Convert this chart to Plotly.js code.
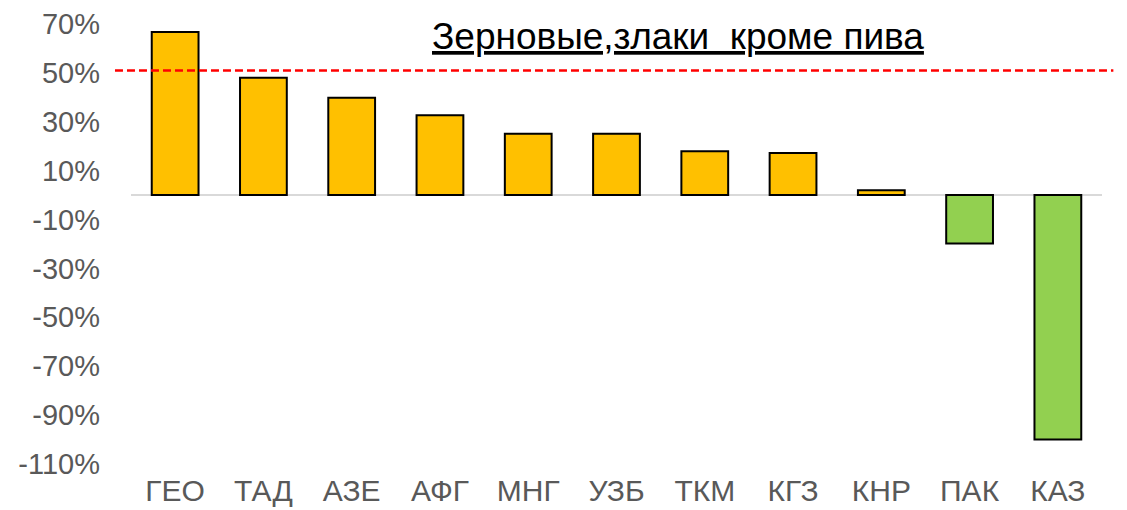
<!DOCTYPE html>
<html>
<head>
<meta charset="utf-8">
<script src="https://cdn.plot.ly/plotly-3.0.1.min.js"></script>
<style>html,body{margin:0;padding:0;background:#fff;}#chart{width:1127px;height:510px;}</style>
</head>
<body>
<div id="chart"></div>
<script>
const categories = ['ГЕО', 'ТАД', 'АЗЕ', 'АФГ', 'МНГ', 'УЗБ', 'ТКМ', 'КГЗ', 'КНР', 'ПАК', 'КАЗ'];
const values = [0.667, 0.48, 0.398, 0.327, 0.251, 0.251, 0.179, 0.172, 0.02, -0.198, -1.00];
const threshold = 0.51;
const yTickValues = [-1.1, -0.9, -0.7, -0.5, -0.3, -0.1, 0.1, 0.3, 0.5, 0.7];
const yTickLabels = ['-110%', '-90%', '-70%', '-50%', '-30%', '-10%', '10%', '30%', '50%', '70%'];
const titleText = 'Зерновые,злаки\u00a0\u00a0кроме пива';

const POS = '#FFC000', NEG = '#92D050';
const barColors = values.map(v => v >= 0 ? POS : NEG);

const trace = {
  type: 'bar',
  x: categories,
  y: values,
  marker: { color: barColors, line: { color: '#000000', width: 2 } },
  width: 0.53,
  hoverinfo: 'x+y'
};

const layout = {
  width: 1127, height: 510,
  margin: { l: 131, r: 25, t: 24, b: 46 },
  paper_bgcolor: '#ffffff', plot_bgcolor: '#ffffff',
  showlegend: false,
  font: { family: 'Liberation Sans, Arial, sans-serif', color: '#595959' },
  xaxis: {
    type: 'category',
    showgrid: false, showline: false, zeroline: false,
    ticks: '', tickfont: { size: 30, color: '#595959' },
    ticklabelstandoff: 6
  },
  yaxis: {
    range: [-1.1, 0.7],
    tickmode: 'array', tickvals: yTickValues, ticktext: yTickLabels,
    showgrid: false, showline: false,
    zeroline: true, zerolinecolor: '#D9D9D9', zerolinewidth: 2,
    ticks: '', tickfont: { size: 29, color: '#595959' },
    ticklabelstandoff: 30
  },
  shapes: [{
    type: 'line', xref: 'paper', yref: 'y',
    x0: -0.0165, x1: 1.0117, y0: threshold, y1: threshold,
    line: { color: '#FF0000', width: 2.5, dash: '8px,4px' }
  }],
  annotations: [{
    text: '<u>' + titleText + '</u>',
    xref: 'paper', yref: 'paper', x: 0.3075, y: 1.0, xanchor: 'left', yanchor: 'middle',
    yshift: -12,
    showarrow: false,
    font: { family: 'Liberation Sans, Arial, sans-serif', size: 37, color: '#000000' }
  }]
};

Plotly.newPlot('chart', [trace], layout, { displayModeBar: false, staticPlot: true });
</script>
</body>
</html>
